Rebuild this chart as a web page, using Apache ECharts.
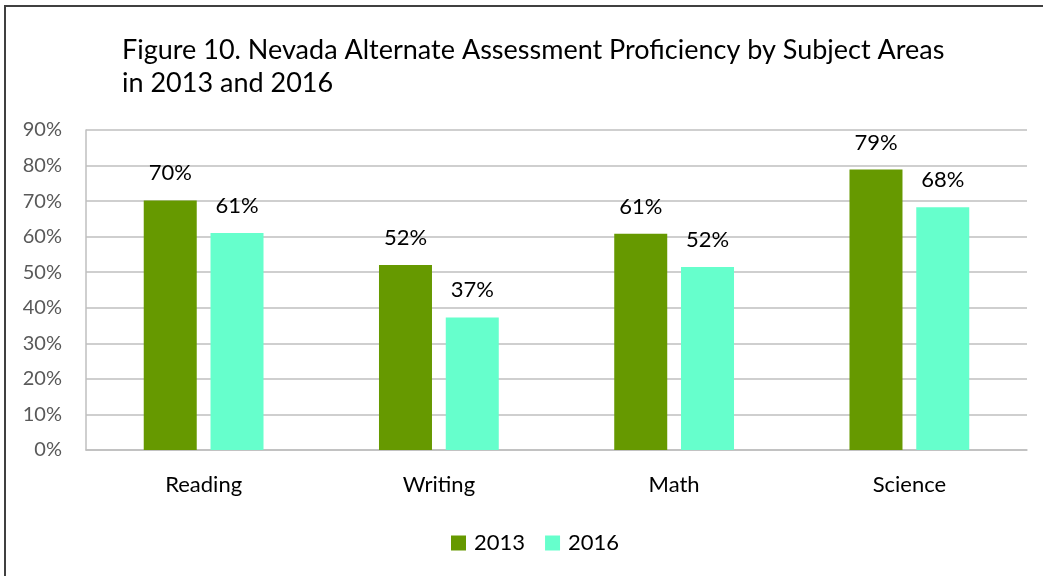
<!DOCTYPE html>
<html>
<head>
<meta charset="utf-8">
<script src="https://cdn.jsdelivr.net/npm/echarts@6/dist/echarts.min.js"></script>
<style>
  html, body { margin: 0; padding: 0; background: #fff; }
  #wrap { position: relative; width: 1043px; height: 576px; overflow: hidden; }
  #frame { position: absolute; left: 4px; top: 5px; width: 1100px; height: 700px;
           border-left: 2px solid #404040; border-top: 2px solid #404040; }
  #chart { position: absolute; left: 0; top: 0; width: 1043px; height: 576px; }
</style>
</head>
<body>
<div id="wrap">
  <div id="frame"></div>
  <div id="chart"></div>
</div>
<script>
const categories = ['Reading', 'Writing', 'Math', 'Science']
const values2013 = [70.2, 52.0, 60.8, 78.9]
const values2016 = [61.0, 37.3, 51.5, 68.3]
const yTicks = [0, 10, 20, 30, 40, 50, 60, 70, 80, 90]

const font = 'Lato, "Open Sans", sans-serif'
const chart = echarts.init(document.getElementById('chart'))

function barSeries(name, data, color) {
  return {
    name,
    type: 'bar',
    data,
    barWidth: 53,
    barGap: '26%',
    itemStyle: { color },
    label: {
      show: true,
      position: 'top',
      distance: 16,
      color: '#000',
      fontSize: 22,
      fontFamily: font,
      formatter: (p) => `${Math.round(p.value)}%`,
    },
  }
}

chart.setOption({
  animation: false,
  title: {
    text: 'Figure 10. Nevada Alternate Assessment Proficiency by Subject Areas\nin 2013 and 2016',
    left: 117,
    top: 29,
    textStyle: { color: '#000', fontSize: 27, fontWeight: 'normal', fontFamily: font, lineHeight: 33 },
  },
  legend: {
    data: ['2013', '2016'],
    left: 446,
    top: 527,
    itemWidth: 15,
    itemHeight: 15,
    itemGap: 20,
    icon: 'rect',
    textStyle: { color: '#000', fontSize: 22, fontFamily: font, padding: [0, 0, 0, 3] },
  },
  grid: { left: 86, right: 16, top: 130, bottom: 126 },
  xAxis: {
    type: 'category',
    data: categories,
    axisTick: { show: false },
    axisLine: { lineStyle: { color: '#bfbfbf', width: 1.5 } },
    axisLabel: { color: '#000', fontSize: 22, fontFamily: font, margin: 24 },
  },
  yAxis: {
    type: 'value',
    min: yTicks[0],
    max: yTicks[yTicks.length - 1],
    interval: 10,
    axisLine: { show: true, lineStyle: { color: '#bfbfbf', width: 1.5 } },
    axisTick: { show: false },
    splitLine: { lineStyle: { color: '#bfbfbf', width: 1.5 } },
    axisLabel: { color: '#595959', fontSize: 20, fontFamily: font, margin: 24, formatter: '{value}%' },
  },
  series: [
    barSeries('2013', values2013, '#669900'),
    barSeries('2016', values2016, '#66ffcc'),
  ],
})
</script>
</body>
</html>
